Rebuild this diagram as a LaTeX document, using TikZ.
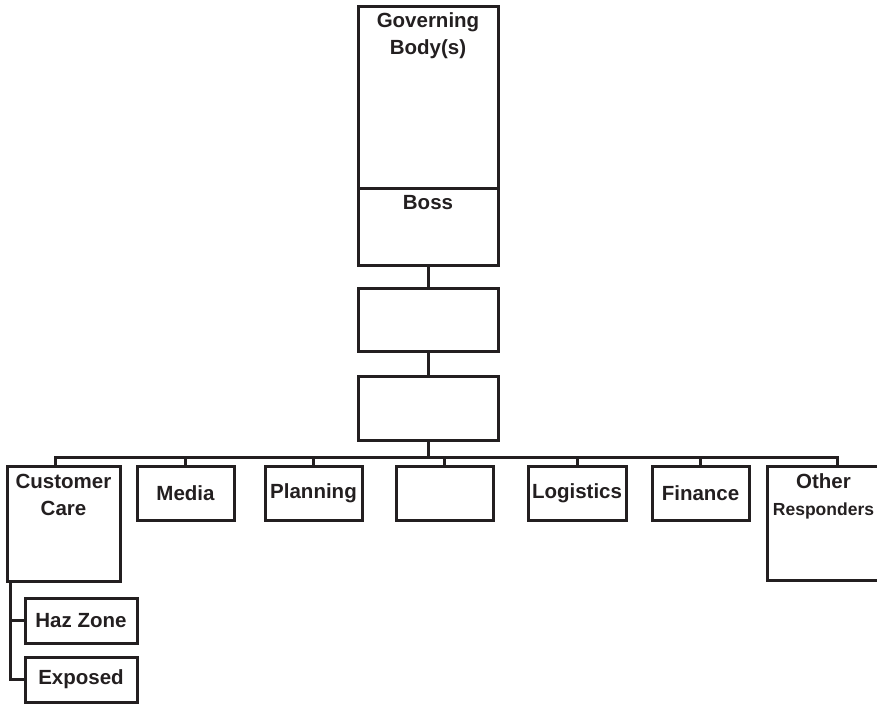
\documentclass[tikz,border=0pt]{standalone}
\usepackage{fontspec}
\setmainfont{Liberation Sans}
\definecolor{inkgray}{HTML}{231F20}
\tikzset{
    orgbox/.style={draw=inkgray, line width=3pt, inner sep=0pt, text=inkgray,
        font=\bfseries\fontsize{20.5}{27}\selectfont, align=center},
    toptext/.style={anchor=north, align=center, inner sep=0pt, text=inkgray,
        font=\bfseries\fontsize{20.5}{27}\selectfont},
    link/.style={draw=inkgray, line width=3pt}
}
\begin{document}
\begin{tikzpicture}[x=1pt, y=-1pt]
        \clip (0,0) rectangle (877,704);

        % Spitze: Leitung
        \node[orgbox, minimum width=140, minimum height=182,
            label={[toptext, yshift=-7.5pt]north:Governing\\Body(s)}] (gov) at (428,97) {};
        \node[orgbox, minimum width=140, minimum height=77,
            label={[toptext, yshift=-9pt]north:Boss}] (boss) at (428,226.5) {};
        \node[orgbox, minimum width=140, minimum height=63] (mid1) at (428,319.5) {};
        \node[orgbox, minimum width=140, minimum height=64] (mid2) at (428,408) {};

        % Abteilungen
        \node[orgbox, minimum width=113, minimum height=115,
            label={[toptext, yshift=-9pt]north:Customer\\Care}] (care) at (63.5,523.5) {};
        \node[orgbox, minimum width=97, minimum height=54] (media) at (185.5,493) {Media};
        \node[orgbox, minimum width=97, minimum height=54] (plan) at (313.5,493) {Planning};
        \node[orgbox, minimum width=97, minimum height=54] (blank) at (444.5,493) {};
        \node[orgbox, minimum width=98, minimum height=54] (logi) at (577,493) {Logistics};
        \node[orgbox, minimum width=97, minimum height=54] (fin) at (700.5,493) {Finance};
        \node[orgbox, minimum width=113, minimum height=114,
            label={[toptext, yshift=-9pt]north:Other\\{\fontsize{17.5}{27}\selectfont Responders}}] (other) at (823.5,523) {};

        % Unterbereiche
        \node[orgbox, minimum width=112, minimum height=45] (haz) at (81,620.5) {Haz Zone};
        \node[orgbox, minimum width=112, minimum height=45] (expo) at (81,679.5) {Exposed};

        % Verbindungen
        \coordinate (bus) at (428,457);
        \coordinate (careTop) at ([xshift=-8.5pt]care.north);
        \coordinate (otherTop) at ([xshift=13.5pt]other.north);
        \coordinate (spine) at ([xshift=5pt]care.south west);
        \draw[link] (boss.south) -- (mid1.north);
        \draw[link] (mid1.south) -- (mid2.north);
        \draw[link] (mid2.south) -- (bus);
        \draw[link] (careTop) -- (careTop |- bus) -- (otherTop |- bus) -- (otherTop);
        \foreach \n in {media,plan,blank,logi,fin}
            \draw[link] (\n.north) -- (\n.north |- bus);
        \draw[link] (spine) |- (expo.west);
        \draw[link] (haz.west) -- (haz.west -| spine);
    \end{tikzpicture}
\end{document}
